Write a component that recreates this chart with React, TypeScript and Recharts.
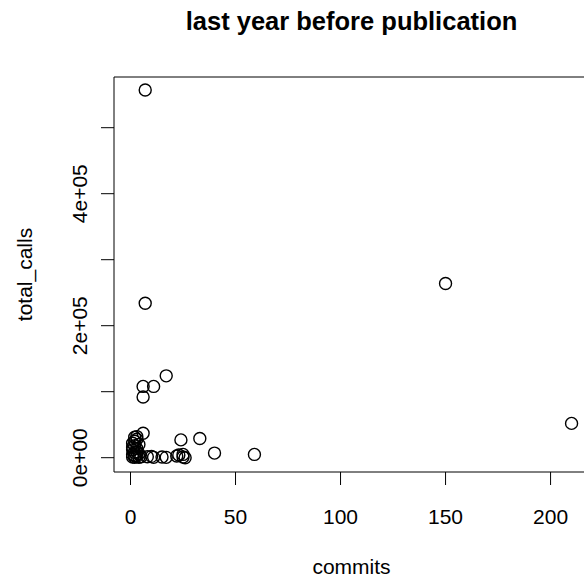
import React from 'react'
import { ScatterChart, Scatter, XAxis, YAxis, ReferenceArea } from 'recharts'

// commits vs total_calls
const commits = [
  7, 150, 7, 210, 17, 11, 6, 6, 6, 24, 33, 40, 59,
  1, 1, 1, 1, 2, 2, 2, 2, 2, 2, 3, 3, 3, 3, 4, 4, 4, 5, 1, 3,
  8, 10, 11, 15, 17, 22, 23, 25, 26, 25,
]
const totalCalls = [
  557000, 264000, 234000, 52000, 124000, 108000, 108000, 92000, 37000, 27000, 29000, 7000, 5000,
  1000, 5000, 12000, 22000, 500, 3000, 8000, 18000, 25000, 31000, 2000, 14000, 28000, 32000, 500, 6000, 20000, 1500, 16000, 9000,
  1500, 2000, 500, 1000, 500, 2500, 4000, 1000, 0, 5000,
]
const xTicks = [0, 50, 100, 150, 200]
const yTicks = [0, 100000, 200000, 300000, 400000, 500000]
const yLabels: Record<number, string> = { 0: '0e+00', 200000: '2e+05', 400000: '4e+05' }

const points = commits.map((c, i) => ({ commits: c, total_calls: totalCalls[i] }))

const X_DOMAIN: [number, number] = [-7.86, 218.3]
const Y_DOMAIN: [number, number] = [-21670, 576800]
const FONT = '"Liberation Sans", Arial, sans-serif'

const Ring = (props: any) => (
  <circle cx={props.cx} cy={props.cy} r={6} fill="none" stroke="#000" strokeWidth={1.4} />
)

const XTick = (props: any) => (
  <text x={props.x} y={516} textAnchor="middle" dominantBaseline="central" fontSize={21} fontFamily={FONT} fill="#000">
    {props.payload.value}
  </text>
)

const YTick = (props: any) => {
  const label = yLabels[props.payload.value]
  if (!label) return <g />
  return (
    <text
      x={80}
      y={props.y}
      transform={`rotate(-90, 80, ${props.y})`}
      textAnchor="middle"
      dominantBaseline="central"
      fontSize={21}
      fontFamily={FONT}
      fill="#000"
    >
      {label}
    </text>
  )
}

export default function App() {
  return (
    <div style={{ position: 'absolute', left: 0, top: 0, width: 584, height: 577, overflow: 'hidden', background: '#fff' }}>
      <svg width={584} height={40} style={{ position: 'absolute', left: 0, top: 0 }}>
        <text x={351.5} y={21} textAnchor="middle" dominantBaseline="central" fontSize={25.5} fontWeight="bold" fontFamily={FONT} fill="#000">
          last year before publication
        </text>
      </svg>
      <svg width={40} height={577} style={{ position: 'absolute', left: 0, top: 0 }}>
        <text x={24} y={274.5} transform="rotate(-90, 24, 274.5)" textAnchor="middle" dominantBaseline="central" fontSize={21} fontFamily={FONT} fill="#000">
          total_calls
        </text>
      </svg>
      <svg width={584} height={37} style={{ position: 'absolute', left: 0, top: 540 }}>
        <text x={351.5} y={26} textAnchor="middle" dominantBaseline="central" fontSize={21} fontFamily={FONT} fill="#000">
          commits
        </text>
      </svg>
      <div style={{ position: 'absolute', left: 0, top: 0 }}>
        <ScatterChart width={600} height={577} margin={{ top: 77, right: 11, bottom: 0, left: 0 }}>
          <XAxis
            type="number"
            dataKey="commits"
            domain={X_DOMAIN}
            ticks={xTicks}
            allowDataOverflow
            height={105}
            axisLine={false}
            tickSize={13}
            tickLine={{ stroke: '#000', strokeWidth: 1 }}
            tick={<XTick />}
            interval={0}
          />
          <YAxis
            type="number"
            dataKey="total_calls"
            domain={Y_DOMAIN}
            ticks={yTicks}
            allowDataOverflow
            width={114}
            axisLine={false}
            tickSize={13}
            tickLine={{ stroke: '#000', strokeWidth: 1 }}
            tick={<YTick />}
            interval={0}
          />
          <ReferenceArea
            x1={X_DOMAIN[0]}
            x2={X_DOMAIN[1]}
            y1={Y_DOMAIN[0]}
            y2={Y_DOMAIN[1]}
            fill="none"
            stroke="#000"
            strokeWidth={1}
            ifOverflow="visible"
          />
          <Scatter data={points} shape={<Ring />} isAnimationActive={false} />
        </ScatterChart>
      </div>
    </div>
  )
}
